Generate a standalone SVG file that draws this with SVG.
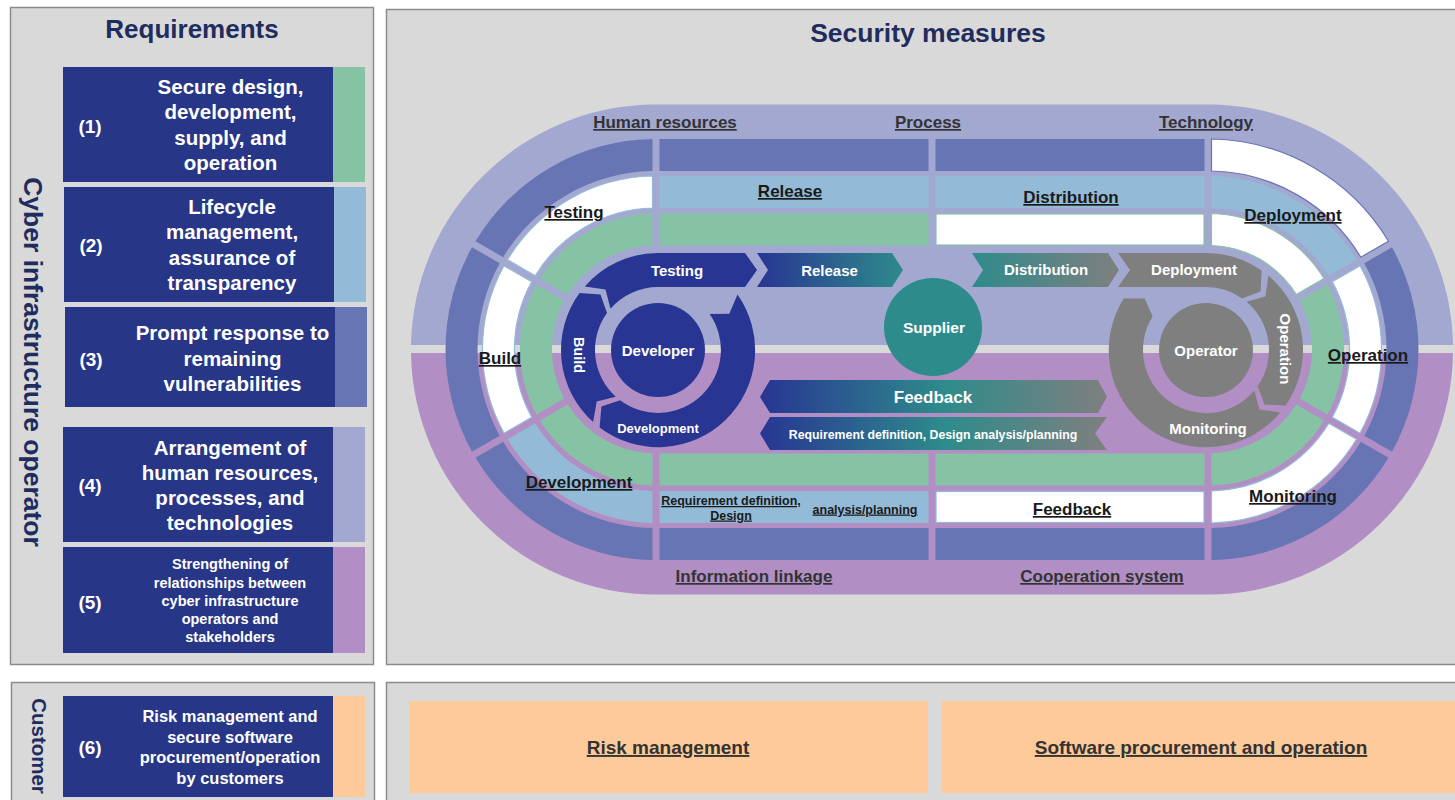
<svg xmlns="http://www.w3.org/2000/svg" width="1455" height="800" viewBox="0 0 1455 800">
<defs>
<style>
.panel{fill:#d9d9d9;stroke:#8c8c8c;stroke-width:1.5}
.box{fill:#283687}
.t{font-family:"Liberation Sans",Arial,sans-serif;font-weight:bold}
.w{fill:#ffffff;text-anchor:middle}
.ttl{fill:#1f2d5e;text-anchor:middle}
.lbl{fill:#1a1a1a;font-size:17px;text-anchor:middle;text-decoration:underline}
.lbl2{fill:#333333;font-size:17px;text-anchor:middle;text-decoration:underline}
.lsm{font-size:12.5px}
.lbig{font-size:19px}
.bt{font-size:20.5px}
.num{font-size:19px}
.dark{fill:#6875b4}
.lb{fill:#93bbd8}
.gr{fill:#86c3a5}
.wb{fill:#ffffff;stroke:#93bbd8;stroke-width:1.2}
.wg{fill:#ffffff;stroke:#86c3a5;stroke-width:1.2}
.wd{fill:#ffffff;stroke:#6875b4;stroke-width:1.2}
.navy{fill:#283593}
.gray{fill:#7f7f7f}
.it{font-size:15px}
</style>
<linearGradient id="gRel" gradientUnits="userSpaceOnUse" x1="757" y1="0" x2="903" y2="0">
<stop offset="0" stop-color="#283593"/><stop offset="1" stop-color="#2e8b8b"/>
</linearGradient>
<linearGradient id="gDist" gradientUnits="userSpaceOnUse" x1="972" y1="0" x2="1119" y2="0">
<stop offset="0" stop-color="#2e8b8b"/><stop offset="1" stop-color="#7f7f7f"/>
</linearGradient>
<linearGradient id="gFb" gradientUnits="userSpaceOnUse" x1="760" y1="0" x2="1107" y2="0">
<stop offset="0" stop-color="#283593"/><stop offset="0.53" stop-color="#2e8b8b"/><stop offset="1" stop-color="#7f7f7f"/>
</linearGradient>
</defs>
<rect x="0" y="0" width="1455" height="800" fill="#ffffff"/>

<!-- Panels -->
<g id="panels">
<rect x="10.5" y="7.5" width="363" height="657" class="panel"/>
<rect x="386.5" y="9.5" width="1080" height="655" class="panel"/>
<rect x="11.5" y="682.5" width="363" height="130" class="panel"/>
<rect x="386.5" y="682.5" width="1080" height="130" class="panel"/>
<text x="192" y="38" class="t ttl" font-size="26">Requirements</text>
<text x="928" y="42" class="t ttl" font-size="26.5">Security measures</text>
<text x="24" y="362" class="t ttl" font-size="26.5" transform="rotate(90 24 362)">Cyber infrastructure operator</text>
<text x="32" y="746" class="t ttl" font-size="20.5" transform="rotate(90 32 746)">Customer</text>
</g>

<!-- Requirements -->
<g id="req1">
<rect x="63" y="67" width="270" height="115" class="box"/>
<rect x="333" y="67" width="32" height="115" class="gr"/>
<text x="90" y="133" class="t w num">(1)</text>
<text class="t w bt"><tspan x="230.5" y="94">Secure design,</tspan><tspan x="230.5" y="119">development,</tspan><tspan x="230.5" y="145">supply, and</tspan><tspan x="230.5" y="170">operation</tspan></text>
</g>
<g id="req2">
<rect x="64" y="187" width="270" height="115" class="box"/>
<rect x="334" y="187" width="32" height="115" class="lb"/>
<text x="91" y="252" class="t w num">(2)</text>
<text class="t w bt"><tspan x="232" y="214">Lifecycle</tspan><tspan x="232" y="239">management,</tspan><tspan x="232" y="265">assurance of</tspan><tspan x="232" y="290">transparency</tspan></text>
</g>
<g id="req3">
<rect x="65" y="307" width="270" height="100" class="box"/>
<rect x="335" y="307" width="32" height="100" class="dark"/>
<text x="91" y="366" class="t w num">(3)</text>
<text class="t w bt"><tspan x="232.5" y="340">Prompt response to</tspan><tspan x="232.5" y="366">remaining</tspan><tspan x="232.5" y="391">vulnerabilities</tspan></text>
</g>
<g id="req4">
<rect x="63" y="427" width="270" height="115" class="box"/>
<rect x="333" y="427" width="32" height="115" fill="#a3a8d1"/>
<text x="90" y="492" class="t w num">(4)</text>
<text class="t w bt"><tspan x="230" y="455">Arrangement of</tspan><tspan x="230" y="480">human resources,</tspan><tspan x="230" y="505">processes, and</tspan><tspan x="230" y="530">technologies</tspan></text>
</g>
<g id="req5">
<rect x="63" y="547" width="270" height="106" class="box"/>
<rect x="333" y="547" width="32" height="106" fill="#b18fc5"/>
<text x="90" y="609" class="t w num">(5)</text>
<text class="t w" font-size="14.5"><tspan x="230" y="569">Strengthening of</tspan><tspan x="230" y="588">relationships between</tspan><tspan x="230" y="606">cyber infrastructure</tspan><tspan x="230" y="624">operators and</tspan><tspan x="230" y="642">stakeholders</tspan></text>
</g>
<g id="req6">
<rect x="63" y="696" width="270" height="101" class="box"/>
<rect x="333" y="696" width="32" height="101" fill="#ffca99"/>
<text x="90" y="754" class="t w num">(6)</text>
<text class="t w" font-size="16.5"><tspan x="230" y="722">Risk management and</tspan><tspan x="230" y="743">secure software</tspan><tspan x="230" y="763">procurement/operation</tspan><tspan x="230" y="784">by customers</tspan></text>
</g>

<!-- Stadium background -->
<g id="stadium">
<path d="M 411 345 A 245 245 0 0 1 656 104.5 L 1208 104.5 A 245 245 0 0 1 1453 345 Z" fill="#a3a8d1"/>
<path d="M 411 353 A 245 245 0 0 0 656 594.5 L 1208 594.5 A 245 245 0 0 0 1453 353 Z" fill="#b18fc5"/>
</g>

<!-- Rings -->
<g id="ring-left">
<path class="dark" d="M 652.5 139 A 210.5 210.5 0 0 0 475.5 241.2 L 503.2 257.2 A 178.5 178.5 0 0 1 652.5 171 Z"/>
<path class="dark" d="M 472 247.3 A 210.5 210.5 0 0 0 472 451.7 L 499.7 435.7 A 178.5 178.5 0 0 1 499.7 263.3 Z"/>
<path class="dark" d="M 475.5 457.8 A 210.5 210.5 0 0 0 652.5 560 L 652.5 528 A 178.5 178.5 0 0 1 503.2 441.8 Z"/>
<path class="wb" d="M 652.5 176 A 173.5 173.5 0 0 0 507.5 259.7 L 535.2 275.7 A 141.5 141.5 0 0 1 652.5 208 Z"/>
<path class="wb" d="M 504 265.8 A 173.5 173.5 0 0 0 504 433.2 L 531.7 417.2 A 141.5 141.5 0 0 1 531.7 281.8 Z"/>
<path class="lb" d="M 507.5 439.3 A 173.5 173.5 0 0 0 652.5 523 L 652.5 491 A 141.5 141.5 0 0 1 535.2 423.3 Z"/>
<path class="gr" d="M 652.5 213.5 A 136 136 0 0 0 540 278.5 L 567.7 294.5 A 104 104 0 0 1 652.5 245.5 Z"/>
<path class="gr" d="M 536.5 284.5 A 136 136 0 0 0 536.5 414.5 L 564.2 398.5 A 104 104 0 0 1 564.2 300.5 Z"/>
<path class="gr" d="M 540 420.5 A 136 136 0 0 0 652.5 485.5 L 652.5 453.5 A 104 104 0 0 1 567.7 404.5 Z"/>
</g>
<g id="ring-right">
<path class="wd" d="M 1211.5 139 A 210.5 210.5 0 0 1 1388.5 241.2 L 1360.8 257.2 A 178.5 178.5 0 0 0 1211.5 171 Z"/>
<path class="dark" d="M 1392 247.3 A 210.5 210.5 0 0 1 1392 451.7 L 1364.3 435.7 A 178.5 178.5 0 0 0 1364.3 263.3 Z"/>
<path class="dark" d="M 1388.5 457.8 A 210.5 210.5 0 0 1 1211.5 560 L 1211.5 528 A 178.5 178.5 0 0 0 1360.8 441.8 Z"/>
<path class="lb" d="M 1211.5 176 A 173.5 173.5 0 0 1 1356.5 259.7 L 1328.8 275.7 A 141.5 141.5 0 0 0 1211.5 208 Z"/>
<path class="wb" d="M 1360 265.8 A 173.5 173.5 0 0 1 1360 433.2 L 1332.3 417.2 A 141.5 141.5 0 0 0 1332.3 281.8 Z"/>
<path class="wb" d="M 1356.5 439.3 A 173.5 173.5 0 0 1 1211.5 523 L 1211.5 491 A 141.5 141.5 0 0 0 1328.8 423.3 Z"/>
<path class="wg" d="M 1211.5 213.5 A 136 136 0 0 1 1324 278.5 L 1296.3 294.5 A 104 104 0 0 0 1211.5 245.5 Z"/>
<path class="gr" d="M 1327.5 284.5 A 136 136 0 0 1 1327.5 414.5 L 1299.8 398.5 A 104 104 0 0 0 1299.8 300.5 Z"/>
<path class="gr" d="M 1324 420.5 A 136 136 0 0 1 1211.5 485.5 L 1211.5 453.5 A 104 104 0 0 0 1296.3 404.5 Z"/>
</g>
<g id="ring-straight">
<rect class="dark" x="659.5" y="139" width="269" height="32"/>
<rect class="dark" x="935.5" y="139" width="269" height="32"/>
<rect class="lb" x="659.5" y="176" width="269" height="32"/>
<rect class="lb" x="935.5" y="176" width="269" height="32"/>
<rect class="gr" x="659.5" y="213.5" width="269" height="32"/>
<rect class="wg" x="936" y="214" width="268" height="31"/>
<rect class="gr" x="659.5" y="453.5" width="269" height="32"/>
<rect class="gr" x="935.5" y="453.5" width="269" height="32"/>
<rect class="lb" x="659.5" y="491" width="269" height="32"/>
<rect class="wb" x="936" y="491.5" width="268" height="31"/>
<rect class="dark" x="659.5" y="528" width="269" height="32"/>
<rect class="dark" x="935.5" y="528" width="269" height="32"/>
</g>

<!-- Ring labels -->
<g id="ring-labels" class="t">
<text x="665" y="128" class="lbl2">Human resources</text>
<text x="928" y="128" class="lbl2">Process</text>
<text x="1206" y="128" class="lbl2">Technology</text>
<text x="754" y="582" class="lbl2">Information linkage</text>
<text x="1102" y="582" class="lbl2">Cooperation system</text>
<text x="574" y="218" class="lbl">Testing</text>
<text x="790" y="197" class="lbl">Release</text>
<text x="1071" y="203" class="lbl">Distribution</text>
<text x="1293" y="221" class="lbl">Deployment</text>
<text x="500" y="364" class="lbl">Build</text>
<text x="1368" y="361" class="lbl">Operation</text>
<text x="579" y="488" class="lbl">Development</text>
<text x="1293" y="502" class="lbl">Monitoring</text>
<text x="1072" y="515" class="lbl">Feedback</text>
<text x="731" y="505" class="lbl lsm">Requirement definition,</text>
<text x="731" y="519.5" class="lbl lsm">Design</text>
<text x="865" y="513.5" class="lbl lsm">analysis/planning</text>
</g>

<!-- Actors -->
<g id="developer">
<circle cx="658" cy="350" r="47" class="navy"/>
<text x="658" y="356" class="t w it">Developer</text>
</g>
<g id="supplier">
<circle cx="933" cy="327" r="49" fill="#2e8b8c"/>
<text x="934" y="332.5" class="t w" font-size="15.5">Supplier</text>
</g>
<g id="operator">
<circle cx="1206" cy="350" r="47" class="gray"/>
<text x="1206" y="356" class="t w it">Operator</text>
</g>

<!-- Flow arrows -->
<g id="connectors">
<path class="navy" d="M 593.1 422.1 A 97 97 0 0 1 579.5 293 L 600.5 294.4 L 607 313 A 63 63 0 0 0 615.8 396.8 L 596.7 401.4 Z"/>
<path class="navy" d="M 584.8 286.4 A 97 97 0 0 1 658 253 L 745 253 L 757 270 L 745 287 L 658 287 A 63 63 0 0 0 610.5 308.7 L 605.5 289.6 Z"/>
<path class="navy" d="M 737.5 294.4 A 97 97 0 0 1 599.6 427.5 L 601.4 406.6 L 620.1 400.3 A 63 63 0 0 0 709.6 313.9 L 729.3 313.7 Z"/>
<path fill="url(#gRel)" d="M 757 253 L 892 253 L 903 270 L 892 287 L 757 287 L 768 270 Z"/>
<path fill="url(#gDist)" d="M 972 253 L 1108 253 L 1119 270 L 1108 287 L 972 287 L 983 270 Z"/>
<path class="gray" d="M 1118 253 L 1206 253 A 97 97 0 0 1 1261.6 270.5 L 1260.6 291.5 L 1242.1 298.4 A 63 63 0 0 0 1206 287 L 1118 287 L 1130 270 Z"/>
<path class="gray" d="M 1268.4 275.7 A 97 97 0 0 1 1285.5 405.6 L 1264.5 404.6 L 1257.6 386.1 A 63 63 0 0 0 1246.5 301.7 L 1265.4 296.5 Z"/>
<path class="gray" d="M 1280.3 412.4 A 97 97 0 0 1 1123.7 298.6 L 1144.7 298.6 L 1152.6 316.6 A 63 63 0 0 0 1254.3 390.5 L 1259.5 409.5 Z"/>
<path fill="url(#gFb)" d="M 760 397 L 770 380 L 1098 380 L 1107 397 L 1098 413 L 770 413 Z"/>
<path fill="url(#gFb)" d="M 760 433.5 L 770 417 L 1107 417 L 1095 433.5 L 1107 450 L 770 450 Z"/>
</g>
<g id="arrow-labels" class="t">
<text x="677" y="275.5" class="w it">Testing</text>
<text x="829.5" y="275.5" class="w it">Release</text>
<text x="1046" y="275" class="w it">Distribution</text>
<text x="1194" y="275" class="w it">Deployment</text>
<text x="574" y="355" class="w" font-size="14.5" transform="rotate(90 574 355)">Build</text>
<text x="1280" y="349" class="w it" transform="rotate(90 1280 349)">Operation</text>
<text x="658" y="432.5" class="w" font-size="13">Development</text>
<text x="1208" y="433.5" class="w" font-size="15">Monitoring</text>
<text x="933" y="403" class="w" font-size="17">Feedback</text>
<text x="933" y="438.5" class="w" font-size="12.3">Requirement definition, Design analysis/planning</text>
</g>

<!-- Customer measures -->
<g id="risk-management">
<rect x="409" y="701" width="519" height="92" fill="#ffca99"/>
<text x="668" y="754" class="t lbl2 lbig">Risk management</text>
</g>
<g id="software-procurement">
<rect x="942" y="701" width="520" height="92" fill="#ffca99"/>
<text x="1201" y="754" class="t lbl2 lbig">Software procurement and operation</text>
</g>
</svg>
